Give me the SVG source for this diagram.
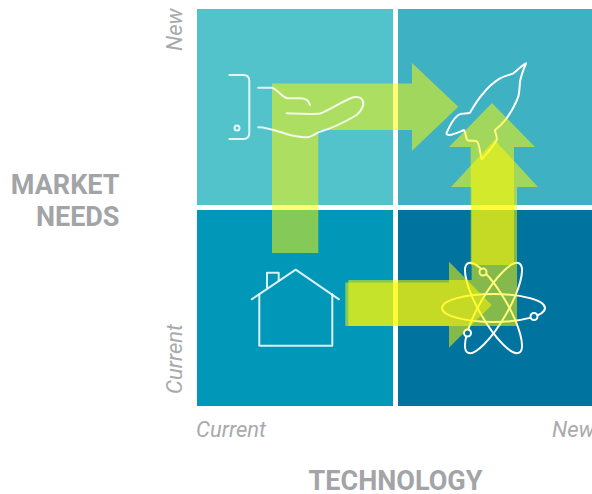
<svg xmlns="http://www.w3.org/2000/svg" width="592" height="494" viewBox="0 0 592 494">
<style>
.ic{fill:none;stroke:#fff;stroke-width:2;stroke-linecap:round;stroke-linejoin:round;stroke-opacity:.85}
.ar{fill:#fffa00;fill-opacity:.52}
text{font-family:Roboto,"Liberation Sans",sans-serif;fill:#a3a4a8}
.h{font-size:27px;font-weight:700}
.s{font-size:22px;font-style:italic;font-weight:400;fill:#a9aaad}
</style>
<rect width="592" height="494" fill="#fff"/>
<g id="quadrants">
<rect id="q-tl" x="197" y="9" width="196" height="196" fill="#52c3cb"/>
<rect id="q-tr" x="398" y="9" width="194" height="196" fill="#3eb1c3"/>
<rect id="q-bl" x="197" y="210" width="196" height="196" fill="#0097b8"/>
<rect id="q-br" x="398" y="210" width="194" height="196" fill="#00739f"/>
</g>
<g id="node-rocket">
<path class="ic" style="stroke-opacity:1" d="M526 63.300C524 68 521 76 520 81.700C519.500 87 519.500 92 518.300 96.700C515 106 511 112 506.700 118.300C503 123 499 127 495 130C495 133 497.500 136 496.700 140C493 147 486 154 481.700 159.300C480 154 480 146 477.300 141.700C474 139.500 470 142 467.300 140C465.500 137 466 133 464 130C459 132 454 134.500 449.300 135C447 135 446 134 446.700 132.700C449.500 126 453 119 458.300 115C462 112.500 467 114.500 470 112.700C474 106 478 99 483.300 93.300C488 87 494 82 500 78.300C505 75.500 510 75 513.300 73.300C517 70.500 521 66 526 63.300Z"/>
</g>
<g id="node-atom">
<g class="ic" style="stroke-opacity:1">
<ellipse cx="493.500" cy="308" rx="51.500" ry="14"/>
<ellipse cx="493.500" cy="308" rx="51.500" ry="14" transform="rotate(60 493.500 308)"/>
<ellipse cx="493.500" cy="308" rx="51.500" ry="14" transform="rotate(-60 493.500 308)"/>
<circle cx="483" cy="272" r="3.500" fill="#00739f"/>
<circle cx="534" cy="316.500" r="3.500" fill="#00739f"/>
<circle cx="467.500" cy="333" r="3.500" fill="#00739f"/>
</g>
</g>
<g id="connectors">
<path class="ar" d="M272 253V83.500H412V63L458.300 106.800L412 150.700V130H318.300V253Z"/>
<path class="ar" d="M345.300 282.500H449V261.700L491.700 305L449 347.700V326H345.300Z"/>
<path class="ar" d="M348.300 280H471.600V187H451L494.500 140L538 187H517V326H348.300Z"/>
<path class="ar" d="M470.700 265V147H449L492 103L535 147H514V265Z"/>
</g>
<g id="node-hand">
<path class="ic" d="M229.300 75H243.300Q249.300 75 249.300 81V133Q249.300 139 243.300 139H229.300"/>
<circle class="ic" cx="237" cy="128" r="2.500"/>
<path class="ic" d="M258.300 87.700H271.700C278 89 282 98.300 288.300 98.300H300C306 98.300 309 101 310 105"/>
<path class="ic" d="M286.700 113.300C300 113.800 312 114.500 320 113.500C328 111.500 342 101 353.300 97.300C360 95.800 363.800 99 363.300 105C362 109 359.500 112.500 356.700 115C345 122 330 129 318.300 132.300C313 135.500 310 137.300 306.700 137.300C300 137.300 295 136 290 135C280 132 268 127.300 258.300 127.300"/>
</g>
<g id="node-house">
<path class="ic" d="M251.700 299.300L295.700 269.700L339 299.300"/>
<path class="ic" d="M259.300 294.300V345.700H332.300V294.300"/>
<path class="ic" d="M267 287.300V272.700H278.700V281"/>
</g>
<g id="labels">
<text class="h" text-anchor="end" x="119.500" y="194">MARKET</text>
<text class="h" text-anchor="end" x="119.500" y="226">NEEDS</text>
<text class="h" text-anchor="middle" x="395.500" y="490">TECHNOLOGY</text>
<text class="s" transform="translate(182 51) rotate(-90)">New</text>
<text class="s" transform="translate(182 394) rotate(-90)">Current</text>
<text class="s" x="196" y="437">Current</text>
<text class="s" x="552" y="437">New</text>
</g>
</svg>
